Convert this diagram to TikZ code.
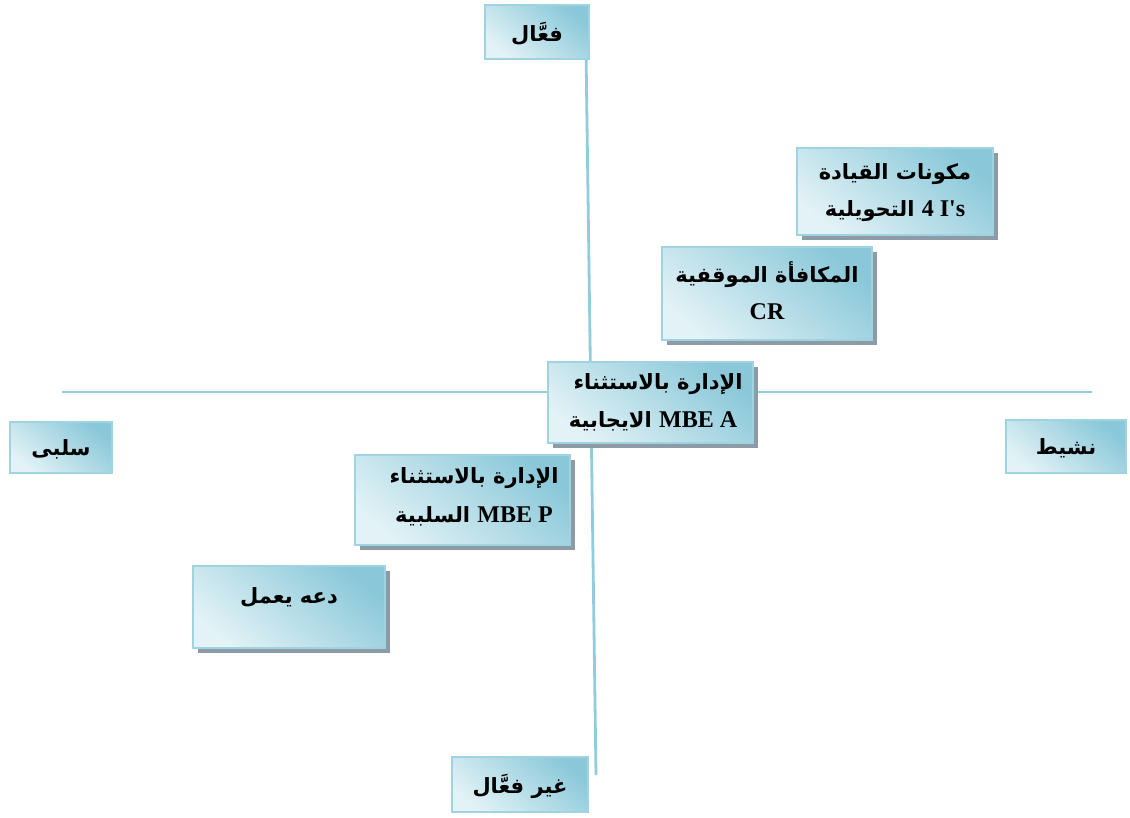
\documentclass[tikz,border=0pt]{standalone}
\usepackage{fontspec}
\usetikzlibrary{shadows}
\TeXXeTstate=1
\newfontfamily\arabicfont[Script=Arabic]{DejaVu Sans}
\newfontfamily\latinfont{Liberation Serif}

\definecolor{axisblue}{RGB}{144,204,219}
\definecolor{boxedge}{RGB}{158,211,223}
\definecolor{fillhi}{RGB}{138,200,217}
\definecolor{filllo}{RGB}{226,242,246}
\definecolor{shadowgray}{RGB}{140,155,166}

\tikzset{
  panel/.style={draw=boxedge, line width=1.8pt, top color=fillhi,
    bottom color=filllo, shading angle=-40, inner sep=0pt},
  shadowpanel/.style={panel, drop shadow={shadow xshift=5pt,
    shadow yshift=-5pt, fill=shadowgray, opacity=1}},
  axisline/.style={draw=axisblue, line width=2.8pt},
  artext/.style={font=\arabicfont\bfseries\fontsize{21}{24}\selectfont,
    inner sep=0pt, text=black},
}
\newcommand{\lat}[1]{\beginL{\latinfont\bfseries\fontsize{24}{26}\selectfont #1}\endL}

\begin{document}
\begin{tikzpicture}[x=1pt,y=-1pt]
  \useasboundingbox (0,0) rectangle (1130,817);

  % axes
  \coordinate (vtop) at (586,50);
  \coordinate (vbot) at (596,775);
  \coordinate (hleft) at (62,392);
  \coordinate (hright) at (1092,392);
  \draw[axisline] (vtop) -- (vbot);
  \draw[axisline] (hleft) -- (hright);

  % axis end labels
  \node[panel, minimum width=104pt, minimum height=54pt] (effective) at (537,32) {};
  \node[artext] (effectivetxt) at (537,34) {\beginR فعَّال\endR};

  \node[panel, minimum width=136pt, minimum height=55pt] (ineffective) at (520,784.5) {};
  \node[artext] (ineffectivetxt) at (520,786) {\beginR غير فعَّال\endR};

  \node[panel, minimum width=102pt, minimum height=51pt] (passive) at (61,447.5) {};
  \node[artext] (passivetxt) at (61,449) {\beginR سلبى\endR};

  \node[panel, minimum width=120pt, minimum height=53pt] (active) at (1066,446.5) {};
  \node[artext] (activetxt) at (1066,448) {\beginR نشيط\endR};

  % leadership styles
  \node[shadowpanel, minimum width=196pt, minimum height=87pt] (tl) at (895,191.5) {};
  \node[artext] (tla) at (895,174) {\beginR مكونات القيادة\endR};
  \node[artext] (tlb) at (895,211) {\beginR \lat{4 I's} التحويلية\endR};

  \node[shadowpanel, minimum width=210pt, minimum height=93pt] (cr) at (767,293.5) {};
  \node[artext] (cra) at (767,275) {\beginR المكافأة الموقفية\endR};
  \node[artext] (crb) at (767,312) {\lat{CR}};

  \node[shadowpanel, minimum width=205pt, minimum height=81pt] (mbea) at (650.5,402.5) {};
  \node[artext] (mbeaa) at (658,384) {\beginR الإدارة بالاستثناء\endR};
  \node[artext] (mbeab) at (653,421) {\beginR \lat{MBE A} الايجابية\endR};

  \node[shadowpanel, minimum width=215pt, minimum height=90pt] (mbep) at (462.5,500) {};
  \node[artext] (mbepa) at (474,478) {\beginR الإدارة بالاستثناء\endR};
  \node[artext] (mbepb) at (474,516) {\beginR \lat{MBE P} السلبية\endR};

  \node[shadowpanel, minimum width=192pt, minimum height=82pt] (lf) at (289,607) {};
  \node[artext] (lftxt) at (289,597) {\beginR دعه يعمل\endR};
\end{tikzpicture}
\end{document}
